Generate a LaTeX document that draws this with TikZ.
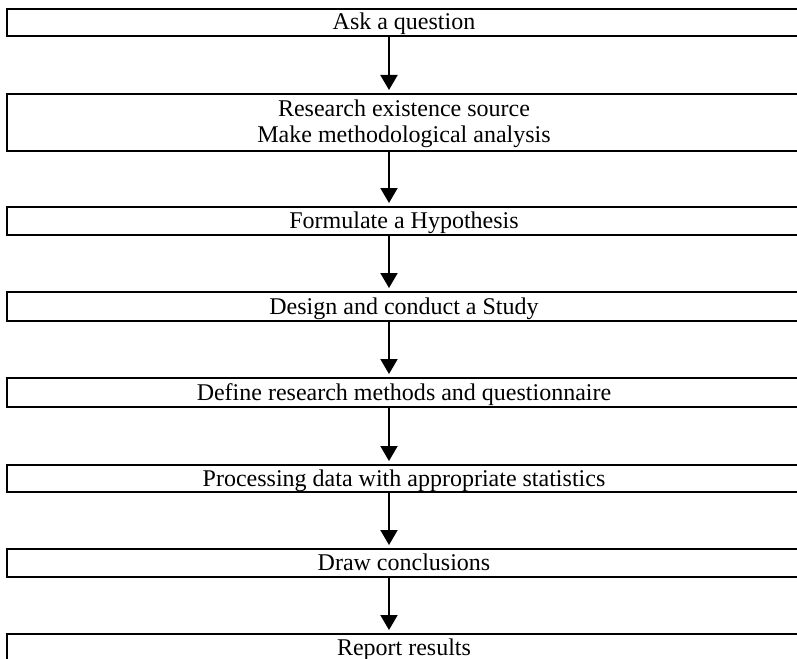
\documentclass[tikz,border=0pt]{standalone}
\usepackage{fontspec}
\setmainfont{Liberation Serif}
\usetikzlibrary{arrows.meta}
\begin{document}
\begin{tikzpicture}[x=1pt,y=-1pt,
  stepbox/.style={draw,line width=2pt,rectangle,minimum width=794pt,inner sep=0pt,
    align=center,font=\fontsize{24}{26}\selectfont,text height=18pt,text depth=3pt},
  flow/.style={line width=2pt,-{Triangle[width=17pt,length=15pt]},shorten >=3pt}]
\useasboundingbox (0,0) rectangle (797,658);
\clip (0,0) rectangle (797,658);
\coordinate (ax) at (389,0);
\node[stepbox,minimum height=27pt] (b1) at (404,22.5) {Ask a question};
\node[stepbox,minimum height=57pt,text height={},text depth={}] (b2) at (404,122.5)
  {\raisebox{-2pt}[\height][\depth]{\begin{tabular}{@{}c@{}}Research existence source\\Make methodological analysis\end{tabular}}};
\node[stepbox,minimum height=28pt] (b3) at (404,221) {Formulate a Hypothesis};
\node[stepbox,minimum height=29pt] (b4) at (404,306.5) {Design and conduct a Study};
\node[stepbox,minimum height=29pt] (b5) at (404,392.5) {Define research methods and questionnaire};
\node[stepbox,minimum height=27pt] (b6) at (404,478.5) {Processing data with appropriate statistics};
\node[stepbox,minimum height=28pt] (b7) at (404,563) {Draw conclusions};
\node[stepbox,minimum height=28pt] (b8) at (404,648) {Report results};
\foreach \a/\b in {b1/b2,b2/b3,b3/b4,b4/b5,b5/b6,b6/b7,b7/b8}
  \draw[flow] (\a.south -| ax) -- (\b.north -| ax);
\end{tikzpicture}
\end{document}
